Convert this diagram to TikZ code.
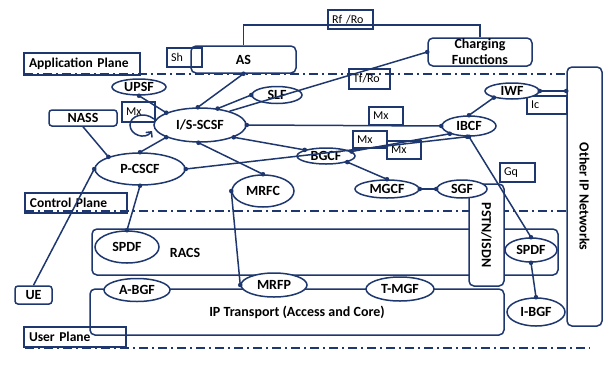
\documentclass[tikz,border=0pt]{standalone}
\usepackage{fontspec}
\setmainfont{Carlito}
\usetikzlibrary{shapes.geometric,arrows.meta}
\definecolor{nv}{RGB}{30,55,110}
\begin{document}
\begin{tikzpicture}[x=1pt,y=-1pt,
  lw/.style={line width=1.5pt},
  ell/.style={ellipse,draw=nv,lw,fill=white,inner sep=0pt,font=\bfseries\fontsize{14}{15}\selectfont},
  rbox/.style={rectangle,rounded corners=5pt,draw=nv,lw,inner sep=0pt,font=\bfseries\fontsize{14}{15}\selectfont},
  lab/.style={rectangle,draw=nv,lw,inner xsep=4pt,inner ysep=0pt,align=left,font=\fontsize{12}{13}\selectfont},
  plane/.style={rectangle,draw=nv,lw,inner xsep=5pt,inner ysep=0pt,align=left,font=\bfseries\fontsize{13.5}{14}\selectfont},
  dashdot/.style={draw=nv,lw,dash pattern=on 9pt off 4pt on 2pt off 4pt},
  line/.style={draw=nv,lw}]
\useasboundingbox (0,0) rectangle (611,365);

% plane separators
\draw[dashdot] (24,74) -- (567,74);
\draw[dashdot] (25,211) -- (567,211);
\draw[dashdot] (25,348) -- (590,348);

% plane labels
\node[plane,text width=106pt,minimum height=22pt] (appl) at (82,64) {Application Plane};
\node[plane,text width=92pt,minimum height=20pt] (ctrl) at (76,203) {Control Plane};
\node[plane,text width=92pt,minimum height=20pt] (user) at (75,337) {User Plane};

% big boxes
\node[rbox,minimum width=466pt,minimum height=46pt] (racs) at (325,252) {};
\node[font=\bfseries\fontsize{14}{15}\selectfont] (racslbl) at (185,253) {RACS};
\node[rbox,minimum width=414pt,minimum height=46pt] (ip) at (297,312) {IP Transport (Access and Core)};
\node[rbox,fill=white,rotate=-90,minimum width=102pt,minimum height=35pt] (pstn) at (486.5,235) {PSTN/ISDN};
\node[rbox,rotate=-90,minimum width=259pt,minimum height=35pt] (onet) at (584.5,196.5) {Other IP Networks};

% application plane boxes
\node[lab,text width=27pt,minimum height=19pt] (sh) at (184.5,57.5) {Sh};
\node[rbox,minimum width=105pt,minimum height=27pt] (as) at (243.5,59.5) {AS};
\node[rbox,align=center,font=\bfseries\fontsize{14}{16}\selectfont,minimum width=104pt,minimum height=28pt] (cf) at (480,52) {Charging\\Functions};
\node[lab,text width=37pt,minimum height=19pt] (rfro) at (350.5,19.5) {Rf /Ro};
\node[lab,text width=33pt,minimum height=20pt] (tfro) at (369.5,79) {Tf/Ro};

% other boxes
\node[rbox,rounded corners=3pt,minimum width=68pt,minimum height=16pt] (nass) at (83,118) {NASS};
\node[rbox,rounded corners=3pt,minimum width=37pt,minimum height=18pt] (ue) at (33.5,295) {UE};

% interface labels
\node[lab,text width=25pt,minimum height=20pt] (mx1) at (138.5,112) {Mx};
\node[lab,text width=26pt,minimum height=18pt] (mx2) at (386,116) {Mx};
\node[lab,text width=26pt,minimum height=17pt] (mx3) at (370,139.5) {Mx};
\node[lab,text width=26pt,minimum height=18pt] (mx4) at (404,150) {Mx};
\node[lab,text width=32pt,minimum height=18pt] (ic) at (547,105) {Ic};
\node[lab,text width=27pt,minimum height=19pt] (gq) at (517.5,172.5) {Gq};

% ellipses
\node[ell,minimum width=54pt,minimum height=16pt] (upsf) at (139,87) {UPSF};
\node[ell,minimum width=92pt,minimum height=34pt] (iscsf) at (200,125) {I/S-SCSF};
\node[ell,minimum width=50pt,minimum height=17pt] (slf) at (277,95) {SLF};
\node[ell,minimum width=90pt,minimum height=32pt] (pcscf) at (140,169) {P-CSCF};
\node[ell,minimum width=62pt,minimum height=32pt] (mrfc) at (263,191) {MRFC};
\node[ell,minimum width=64pt,minimum height=32pt] (spdfl) at (127,247) {SPDF};
\node[ell,minimum width=66pt,minimum height=23pt] (abgf) at (137,290) {A-BGF};
\node[ell,minimum width=66pt,minimum height=24pt] (mrfp) at (274,285) {MRFP};
\node[ell,minimum width=68pt,minimum height=24pt] (tmgf) at (400,289) {T-MGF};
\node[ell,minimum width=58pt,minimum height=16pt] (bgcf) at (326,156) {BGCF};
\node[ell,minimum width=64pt,minimum height=18pt] (mgcf) at (387,189) {MGCF};
\node[ell,minimum width=50pt,minimum height=18pt] (sgf) at (462,189) {SGF};
\node[ell,minimum width=54pt,minimum height=20pt] (ibcf) at (469,126) {IBCF};
\node[ell,minimum width=54pt,minimum height=16pt] (iwf) at (512,91) {IWF};
\node[ell,minimum width=52pt,minimum height=24pt] (spdfr) at (531,250) {SPDF};
\node[ell,minimum width=58pt,minimum height=28pt] (ibgf) at (536,312) {I-BGF};

% top bar AS -- Charging
\coordinate (bar) at (480,25);
\draw[line] (as.north) |- (bar) -- (cf.north);

% connectors
\draw[line] (upsf.south) -- (iscsf.160);
\draw[line] (as.south) -- (iscsf.97);
\draw[line] (slf.west) -- (iscsf.43);
\draw[line] (cf.west) -- (iscsf.25);
\draw[line] (iscsf.east) -- (ibcf.west);
\draw[line] (iscsf.200) -- (pcscf.north);
\draw[line] (iscsf.265) -- (mrfc.north);
\draw[line] (iscsf.340) -- (bgcf.164);
\draw[line] (nass.south) -- (pcscf.159);
\draw[line] (ue.north) -- (pcscf.west);
\draw[line] (pcscf.east) -- (ibcf.260);
\draw[line] (pcscf.south) -- (spdfl.north);
\draw[line] (mrfc.west) -- (mrfp.west);
\draw[line] (bgcf.10) -- (ibcf.202);
\draw[line] (bgcf.-16) -- (mgcf.north);
\draw[line] (mgcf.east) -- (sgf.west);
\draw[line] (ibcf.north) -- (iwf.200);
\coordinate (iwfend) at (iwf.east -| onet.south);
\draw[line] (iwf.east) -- (iwfend);
\draw[line] (ibcf.south) -- (spdfr.north);
\draw[line] (spdfr.south) -- (ibgf.north);

% connection dots
\foreach \p in {upsf.south, iscsf.160, as.south, iscsf.97, slf.west, iscsf.43,
  cf.west, iscsf.east, ibcf.west, iscsf.200, pcscf.north, iscsf.265, mrfc.north,
  iscsf.340, bgcf.164, pcscf.159, pcscf.west, pcscf.east, ibcf.260, pcscf.south,
  spdfl.north, mrfc.west, mrfp.west, bgcf.10, ibcf.202, bgcf.-16, mgcf.north,
  mgcf.east, sgf.west, ibcf.north, iwf.200, iwf.east, iwfend, ibcf.south,
  spdfr.north, spdfr.south, ibgf.north}
  \fill[nv] (\p) circle[radius=2.3pt];

% Mx loop on I/S-SCSF
\draw[line,-{Straight Barb[length=4pt]}] (154,119) .. controls (144,111) and (130,116) .. (130,125) .. controls (130,135) and (145,140) .. (152,131);
\end{tikzpicture}
\end{document}
